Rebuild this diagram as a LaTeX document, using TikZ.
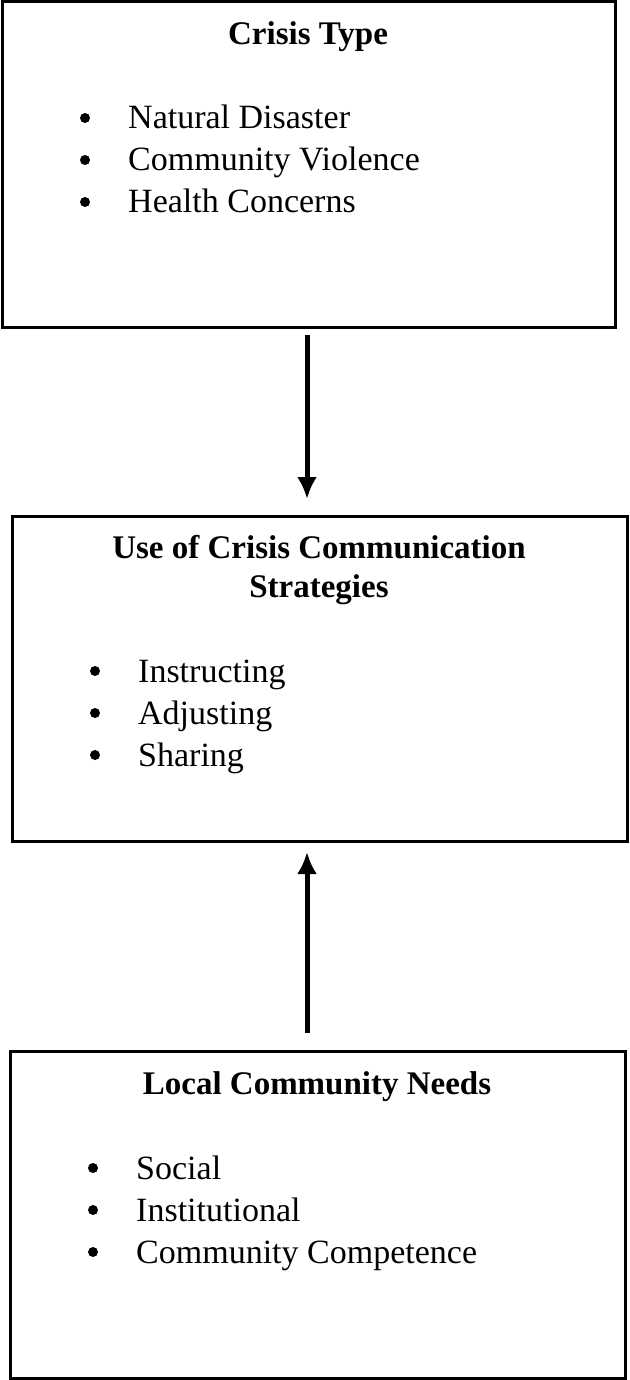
\documentclass[tikz,border=0pt]{standalone}
\usepackage{fontspec}
\setmainfont{Liberation Serif}
\usetikzlibrary{arrows.meta}
\begin{document}
\begin{tikzpicture}[x=1pt,y=-1pt,
  box/.style={draw,line width=3pt},
  txt/.style={anchor=base west,font=\fontsize{34}{40}\selectfont,inner sep=0},
  ttl/.style={font=\fontsize{33}{39}\selectfont\bfseries,align=center,inner sep=0},
  bul/.style={circle,fill,inner sep=0,minimum size=10pt},
  arr/.style={line width=5pt,-{Latex[length=22pt,width=20pt]}}]
\useasboundingbox (0,0) rectangle (629,1380);
\draw[box] (2,2) rectangle (615,327);
\draw[box] (12,516) rectangle (627,841);
\draw[box] (10,1051) rectangle (625,1378);
\node[ttl] (t1) at (308,37) {Crisis Type};
\foreach \y/\s [count=\i] in {118/Natural Disaster,160/Community Violence,202/Health Concerns}{
  \node[bul] (b1\i) at (85,\y) {}; \node[txt] (s1\i) at (128,\y+11) {\s};}
\node[ttl] (t2) at (319,570) {Use of Crisis Communication\\Strategies};
\foreach \y/\s [count=\i] in {671/Instructing,713/Adjusting,755/Sharing}{
  \node[bul] (b2\i) at (95,\y) {}; \node[txt] (s2\i) at (138,\y+11) {\s};}
\node[ttl] (t3) at (317,1087) {Local Community Needs};
\foreach \y/\s [count=\i] in {1168/Social,1210/Institutional,1252/Community Competence}{
  \node[bul] (b3\i) at (93,\y) {}; \node[txt] (s3\i) at (136,\y+11) {\s};}
\coordinate (a1s) at (307,335); \coordinate (a1e) at (307,499);
\coordinate (a2s) at (307,1033); \coordinate (a2e) at (307,852);
\draw[arr] (a1s) -- (a1e);
\draw[arr] (a2s) -- (a2e);
\end{tikzpicture}
\end{document}
